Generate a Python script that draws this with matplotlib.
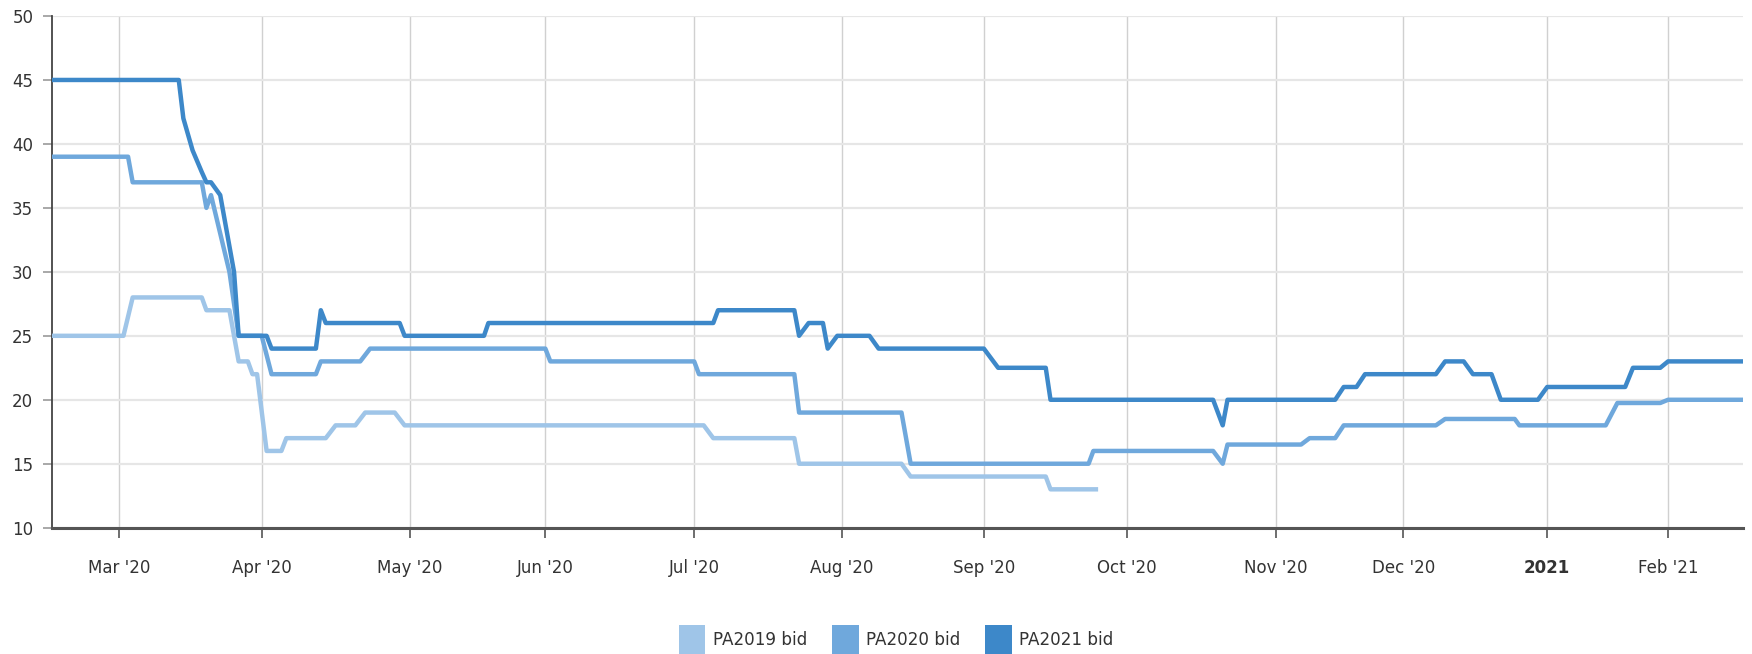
import numpy as np
import pandas as pd
import matplotlib
matplotlib.use("Agg")
import matplotlib.pyplot as plt
import matplotlib.dates as mdates
from matplotlib.patches import Patch

# ---------------- data ----------------
pa2019_dates = ["2020-02-17", "2020-03-02", "2020-03-04", "2020-03-19", "2020-03-20", "2020-03-25",
                "2020-03-26", "2020-03-27", "2020-03-29", "2020-03-30", "2020-03-31", "2020-04-02",
                "2020-04-05", "2020-04-06", "2020-04-14", "2020-04-16", "2020-04-20", "2020-04-22",
                "2020-04-28", "2020-04-30", "2020-07-03", "2020-07-05", "2020-07-22", "2020-07-23",
                "2020-08-14", "2020-08-16", "2020-09-14", "2020-09-15", "2020-09-25"]
pa2019_vals = [25, 25, 28, 28, 27, 27, 25, 23, 23, 22, 22, 16, 16, 17, 17, 18, 18, 19, 19, 18,
               18, 17, 17, 15, 15, 14, 14, 13, 13]

pa2020_dates = ["2020-02-17", "2020-03-03", "2020-03-04", "2020-03-19", "2020-03-20", "2020-03-21",
                "2020-03-25", "2020-03-27", "2020-04-01", "2020-04-03", "2020-04-12", "2020-04-13",
                "2020-04-21", "2020-04-23", "2020-06-01", "2020-06-02", "2020-07-01", "2020-07-02",
                "2020-07-22", "2020-07-23", "2020-08-14", "2020-08-16", "2020-09-23", "2020-09-24",
                "2020-10-19", "2020-10-21", "2020-10-22", "2020-11-07", "2020-11-09", "2020-11-15",
                "2020-11-17", "2020-12-08", "2020-12-10", "2020-12-25", "2020-12-26", "2021-01-16",
                "2021-01-19", "2021-01-30", "2021-02-01", "2021-02-19"]
pa2020_vals = [39, 39, 37, 37, 35, 36, 30, 25, 25, 22, 22, 23, 23, 24, 24, 23, 23, 22, 22, 19,
               19, 15, 15, 16, 16, 15, 16.5, 16.5, 17, 17, 18, 18, 18.5, 18.5, 18, 18, 19.75, 19.75,
               20, 20]

pa2021_dates = ["2020-02-17", "2020-03-14", "2020-03-15", "2020-03-17", "2020-03-19", "2020-03-20",
                "2020-03-21", "2020-03-23", "2020-03-26", "2020-03-27", "2020-04-02", "2020-04-03",
                "2020-04-12", "2020-04-13", "2020-04-14", "2020-04-29", "2020-04-30", "2020-05-18",
                "2020-05-19", "2020-07-05", "2020-07-06", "2020-07-22", "2020-07-23", "2020-07-25",
                "2020-07-28", "2020-07-29", "2020-07-31", "2020-08-07", "2020-08-09", "2020-09-01",
                "2020-09-04", "2020-09-14", "2020-09-15", "2020-10-19", "2020-10-21", "2020-10-22",
                "2020-11-15", "2020-11-17", "2020-11-20", "2020-11-22", "2020-12-08", "2020-12-10",
                "2020-12-14", "2020-12-16", "2020-12-20", "2020-12-22", "2020-12-30", "2021-01-01",
                "2021-01-21", "2021-01-23", "2021-01-30", "2021-02-01", "2021-02-19"]
pa2021_vals = [45, 45, 42, 39.5, 37.8, 37, 37, 36, 30, 25, 25, 24, 24, 27, 26, 26, 25, 25, 26, 26,
               27, 27, 25, 26, 26, 24, 25, 25, 24, 24, 22.5, 22.5, 20, 20, 18, 20, 20, 21, 21, 22,
               22, 23, 23, 22, 22, 20, 20, 21, 21, 22.5, 22.5, 23, 23]

series_names = ["PA2019 bid", "PA2020 bid", "PA2021 bid"]
series_colors = ["#9fc5e8", "#6fa8dc", "#3d88c9"]

tick_dates = ["2020-03-01", "2020-04-01", "2020-05-01", "2020-06-01", "2020-07-01", "2020-08-01",
              "2020-09-01", "2020-10-01", "2020-11-01", "2020-12-01", "2021-01-01", "2021-02-01"]
tick_labels = ["Mar '20", "Apr '20", "May '20", "Jun '20", "Jul '20", "Aug '20", "Sep '20",
               "Oct '20", "Nov '20", "Dec '20", "2021", "Feb '21"]
y_ticks = [10, 15, 20, 25, 30, 35, 40, 45, 50]

# ordinal-style axis (trading-day spacing): relative positions of month starts
anchor_dates = ["2020-02-01"] + tick_dates + ["2021-03-01"]
anchor_pos = [-33.3, 116, 259, 407, 543, 692, 840, 982, 1125, 1274, 1402, 1546, 1667, 1783.7]


def dnum(lst):
    return mdates.date2num(pd.to_datetime(lst).to_pydatetime())


anchor_nums = dnum(anchor_dates)
anchor_pos = np.array(anchor_pos, dtype=float)


def fwd(x):
    return np.interp(x, anchor_nums, anchor_pos)


def inv(y):
    return np.interp(y, anchor_pos, anchor_nums)


# ---------------- figure ----------------
W, H = 1752, 654
fig = plt.figure(figsize=(W / 100, H / 100), dpi=100)
ax = fig.add_axes([52 / W, (H - 527.7) / H, (1743 - 52) / W, (527.7 - 16) / H])
ax.set_xscale("function", functions=(fwd, inv))

for d, v, c, lbl in zip([pa2019_dates, pa2020_dates, pa2021_dates],
                        [pa2019_vals, pa2020_vals, pa2021_vals],
                        series_colors, series_names):
    ax.plot(dnum(d), v, color=c, lw=3.2, solid_joinstyle="round", solid_capstyle="butt",
            label=lbl, zorder=3)

ax.set_xlim(dnum(["2020-02-17"])[0], dnum(["2021-02-19"])[0])
ax.set_ylim(10, 50)

ax.set_xticks(dnum(tick_dates))
ax.set_xticklabels(tick_labels)
ax.xaxis.set_minor_locator(matplotlib.ticker.NullLocator())
for t in ax.get_xticklabels():
    if t.get_text() == "2021":
        t.set_fontweight("bold")
ax.set_yticks(y_ticks)
ax.set_yticklabels([str(v) for v in y_ticks])

ax.tick_params(axis="x", length=7, width=1.2, color="#555555", pad=15.5, labelsize=12,
               labelcolor="#333333")
ax.tick_params(axis="y", length=6.5, width=1.2, color="#999999", pad=7, labelsize=12,
               labelcolor="#333333")

ax.grid(axis="y", color="#e6e6e6", lw=1.6, zorder=0)
ax.grid(axis="x", color="#d0d0d0", lw=1.0, zorder=0)
ax.set_axisbelow(True)

for s in ["top", "right"]:
    ax.spines[s].set_visible(False)
ax.spines["left"].set_color("#444444")
ax.spines["left"].set_linewidth(1.3)
ax.spines["bottom"].set_color("#555555")
ax.spines["bottom"].set_linewidth(2.2)

handles = [Patch(facecolor=c, edgecolor="none", label=n) for c, n in zip(series_colors, series_names)]
fig.legend(handles=handles, loc="center", bbox_to_anchor=(896 / W, (H - 640) / H), ncol=3,
           frameon=False, fontsize=12.1, handlelength=1.6, handleheight=2.35,
           handletextpad=0.45, columnspacing=1.45, labelcolor="#333333", borderaxespad=0,
           borderpad=0)

fig.savefig("out.png", dpi=100)
